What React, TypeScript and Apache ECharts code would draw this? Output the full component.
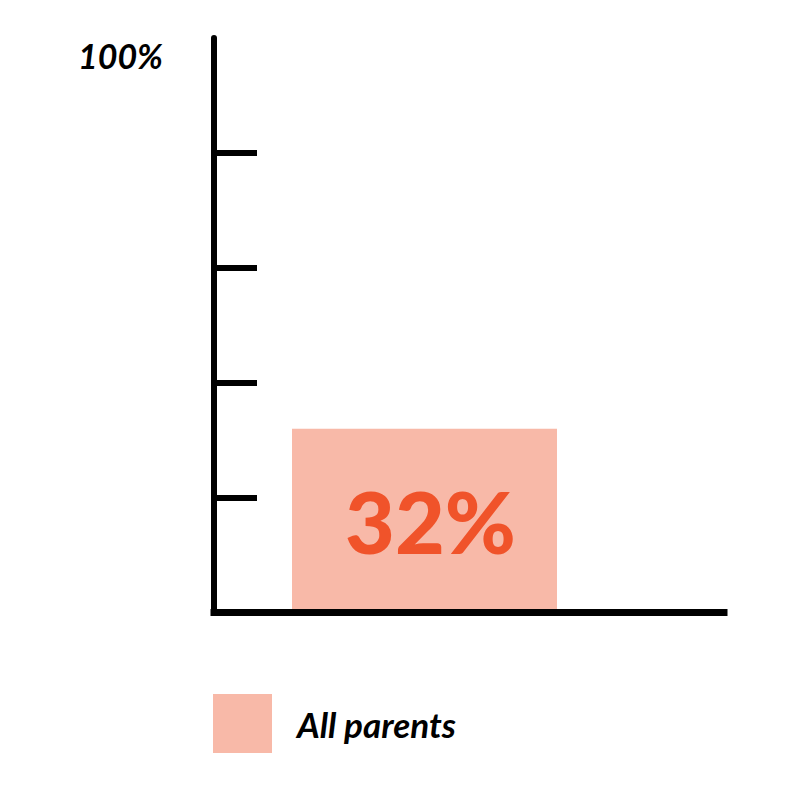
import * as echarts from 'echarts';
import { useEffect, useRef } from 'react';

// values
const categories = ['All parents'];
const shares = [32];
const seriesName = 'All parents';
const yTickValues = [20, 40, 60, 80];
const yLabelValues = [100];

const BAR_COLOR = '#F8B9A8';
const LABEL_COLOR = '#F0532A';
const AXIS_COLOR = '#000000';

export default function App() {
  const chartRef = useRef<HTMLDivElement>(null);

  useEffect(() => {
    document.body.style.margin = '0';
    if (!chartRef.current) return;

    const chart = echarts.init(chartRef.current, undefined, { renderer: 'svg' });

    const font = 'Lato, "DejaVu Sans", sans-serif';

    chart.setOption({
      animation: false,
      textStyle: { fontFamily: font },
      // grid 0 holds the visible axes, grid 1 positions the bar
      grid: [
        { left: 214, right: 76, top: 38, bottom: 187.5 },
        { left: 214, right: 165, top: 38, bottom: 187.5 },
      ],
      legend: {
        left: 213,
        top: 694,
        padding: 0,
        icon: 'rect',
        itemWidth: 59,
        itemHeight: 59,
        selectedMode: false,
        data: [seriesName],
        textStyle: {
          fontFamily: font,
          fontSize: 35,
          fontStyle: 'italic',
          fontWeight: 'bold',
          color: '#000',
          padding: [0, 0, 0, 20],
        },
      },
      xAxis: [
        {
          gridIndex: 0,
          type: 'category',
          data: categories,
          z: 5,
          axisLine: { show: true, lineStyle: { color: AXIS_COLOR, width: 7, cap: 'square' } },
          axisTick: { show: false },
          axisLabel: { show: false },
          splitLine: { show: false },
        },
        {
          gridIndex: 1,
          type: 'category',
          data: categories,
          show: false,
        },
      ],
      yAxis: [
        {
          gridIndex: 0,
          type: 'value',
          min: 0,
          max: 100,
          z: 5,
          axisLine: { show: true, lineStyle: { color: AXIS_COLOR, width: 6 } },
          axisTick: {
            show: true,
            inside: true,
            length: 43,
            customValues: yTickValues,
            lineStyle: { color: AXIS_COLOR, width: 6 },
          },
          axisLabel: {
            show: true,
            customValues: yLabelValues,
            formatter: (v: number) => `${v}%`,
            margin: 51,
            fontFamily: font,
            fontSize: 34,
            fontStyle: 'italic',
            fontWeight: 'bold',
            color: '#000',
            verticalAlign: 'top',
            lineHeight: 34,
          },
          splitLine: { show: false },
        },
        {
          gridIndex: 1,
          type: 'value',
          min: 0,
          max: 100,
          show: false,
        },
      ],
      series: [
        {
          name: seriesName,
          type: 'bar',
          xAxisIndex: 1,
          yAxisIndex: 1,
          data: shares,
          barWidth: 265,
          itemStyle: { color: BAR_COLOR },
          label: {
            show: true,
            position: 'inside',
            offset: [6, 0],
            formatter: (p: { value: number }) => `${p.value}%`,
            fontFamily: font,
            fontSize: 86,
            fontWeight: 900,
            color: LABEL_COLOR,
          },
        },
      ],
    });

    return () => {
      chart.dispose();
    };
  }, []);

  return <div ref={chartRef} style={{ width: '800px', height: '800px' }} />;
}
